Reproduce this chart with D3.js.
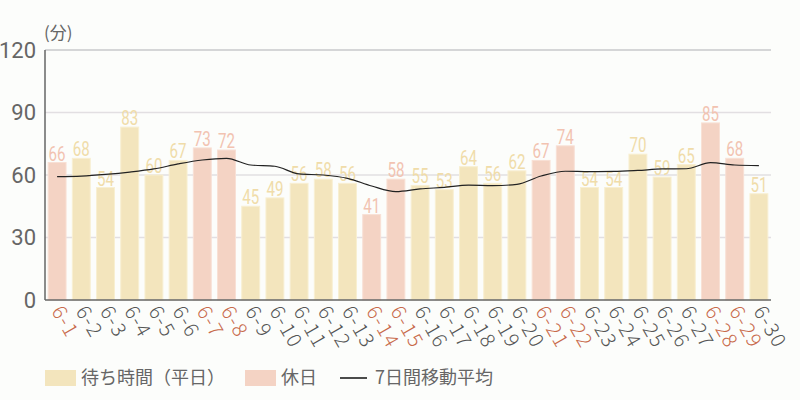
<!DOCTYPE html>
<html>
<head>
<meta charset="utf-8">
<script src="https://cdn.jsdelivr.net/npm/d3@7"></script>
<style>
  body { margin: 0; background: #fcfdfb; }
  text { font-family: "Noto Sans CJK JP", "Noto Sans", sans-serif; }
</style>
</head>
<body>
<div id="chart"></div>
<script>
// Data
const days = ["6-1","6-2","6-3","6-4","6-5","6-6","6-7","6-8","6-9","6-10",
  "6-11","6-12","6-13","6-14","6-15","6-16","6-17","6-18","6-19","6-20",
  "6-21","6-22","6-23","6-24","6-25","6-26","6-27","6-28","6-29","6-30"];
const waitTimes = [66,68,54,83,60,67,73,72,45,49,56,58,56,41,58,55,53,64,56,62,
  67,74,54,54,70,59,65,85,68,51];
const holidays = ["6-1","6-7","6-8","6-14","6-15","6-21","6-22","6-28","6-29"];
const movingAvg = [59.2,59.5,60.3,61.4,62.9,65.3,67.2,68.0,64.8,64.2,
  60.5,60.0,58.4,54.7,52.0,53.3,54.1,55.1,54.9,55.5,
  59.5,61.8,61.6,61.7,62.2,62.9,63.0,65.9,64.8,64.5];
const yTicks = [0, 30, 60, 90, 120];

const margin = { top: 50, right: 29, bottom: 100, left: 45 };
const width = 800 - margin.left - margin.right;
const height = 400 - margin.top - margin.bottom;

const svg = d3.select("#chart")
  .append("svg")
  .attr("width", 800)
  .attr("height", 400);

const chart = svg.append("g")
  .attr("transform", "translate(" + margin.left + "," + margin.top + ")");

const x = d3.scaleBand().domain(days).range([0, width]).paddingInner(0.26).paddingOuter(0.13);
const y = d3.scaleLinear().domain([0, 120]).range([height, 0]);

const isHoliday = (d) => holidays.includes(d);

// gridlines
chart.append("g")
  .selectAll("line")
  .data(yTicks.filter((d) => d > 0))
  .join("line")
  .attr("x1", 0)
  .attr("x2", width)
  .attr("y1", (d) => y(d))
  .attr("y2", (d) => y(d))
  .style("stroke", (d) => d === 120 ? "#c9c9cb" : "#e2dfe2")
  .style("stroke-width", 1.5);

// y tick labels
chart.append("g")
  .selectAll("text")
  .data(yTicks)
  .join("text")
  .attr("x", -9)
  .attr("y", (d) => y(d))
  .attr("dy", "0.36em")
  .attr("text-anchor", "end")
  .style("font-family", "Roboto, sans-serif")
  .style("font-size", "22px")
  .style("fill", "#666")
  .text((d) => d);

// unit
svg.append("text")
  .attr("x", 44)
  .attr("y", 39)
  .style("font-size", "17px")
  .style("fill", "#666")
  .text("(分)");

// bars
const data = days.map((d, i) => ({ day: d, value: waitTimes[i], avg: movingAvg[i] }));

chart.append("g")
  .selectAll("rect")
  .data(data)
  .join("rect")
  .attr("x", (d) => x(d.day))
  .attr("y", (d) => y(d.value))
  .attr("width", x.bandwidth())
  .attr("height", (d) => height - y(d.value))
  .style("fill", (d) => isHoliday(d.day) ? "#f4d3c4" : "#f3e5bd")
  .style("stroke", (d) => isHoliday(d.day) ? "#f8e0d5" : "#f8efd2")
  .style("stroke-width", 1);

// value labels (condensed look via horizontal scale)
chart.append("g")
  .selectAll("text")
  .data(data)
  .join("text")
  .attr("transform", (d) => "translate(" + (x(d.day) + x.bandwidth() / 2) + "," + (y(d.value) - 2) + ")scale(0.72,1)")
  .attr("text-anchor", "middle")
  .style("font-family", "Roboto, sans-serif")
  .style("font-size", "21px")
  .style("fill", (d) => isHoliday(d.day) ? "#f2c3b1" : "#f0dca9")
  .text((d) => d.value);

// moving average line
const line = d3.line()
  .x((d) => x(d.day) + x.bandwidth() / 2)
  .y((d) => y(d.avg))
  .curve(d3.curveMonotoneX);

chart.append("path")
  .datum(data)
  .attr("d", line)
  .style("fill", "none")
  .style("stroke", "#222")
  .style("stroke-width", 1.2);

// axes lines
chart.append("line")
  .attr("x1", 0).attr("x2", 0)
  .attr("y1", 0).attr("y2", height)
  .style("stroke", "#666").style("stroke-width", 1.5);
chart.append("line")
  .attr("x1", 0).attr("x2", width)
  .attr("y1", height).attr("y2", height)
  .style("stroke", "#666").style("stroke-width", 1.5);

// x labels, rotated
chart.append("g")
  .selectAll("text")
  .data(days)
  .join("text")
  .attr("transform", (d) => "translate(" + (x(d) + x.bandwidth() / 2 - 6) + "," + (height + 11) + ")rotate(60)")
  .style("font-family", "'Noto Sans CJK JP', sans-serif")
  .style("font-weight", 300)
  .style("font-size", "20px")
  .style("letter-spacing", "1.5px")
  .style("fill", (d) => isHoliday(d) ? "#c86a4b" : "#555")
  .text((d) => d);

// legend
const legend = svg.append("g").attr("transform", "translate(45,370)");
legend.append("rect").attr("width", 31).attr("height", 16).style("fill", "#f3e5bd");
legend.append("text").attr("x", 36).attr("y", 8).attr("dy", "0.36em")
  .style("font-size", "18px").style("fill", "#666").text("待ち時間（平日）");
legend.append("rect").attr("x", 200).attr("width", 31).attr("height", 16).style("fill", "#f4d3c4");
legend.append("text").attr("x", 236).attr("y", 8).attr("dy", "0.36em")
  .style("font-size", "18px").style("fill", "#666").text("休日");
legend.append("line").attr("x1", 295).attr("x2", 322).attr("y1", 8).attr("y2", 8)
  .style("stroke", "#111").style("stroke-width", 1.5);
legend.append("text").attr("x", 330).attr("y", 8).attr("dy", "0.36em")
  .style("font-size", "18px").style("fill", "#666").text("7日間移動平均");
</script>
</body>
</html>
